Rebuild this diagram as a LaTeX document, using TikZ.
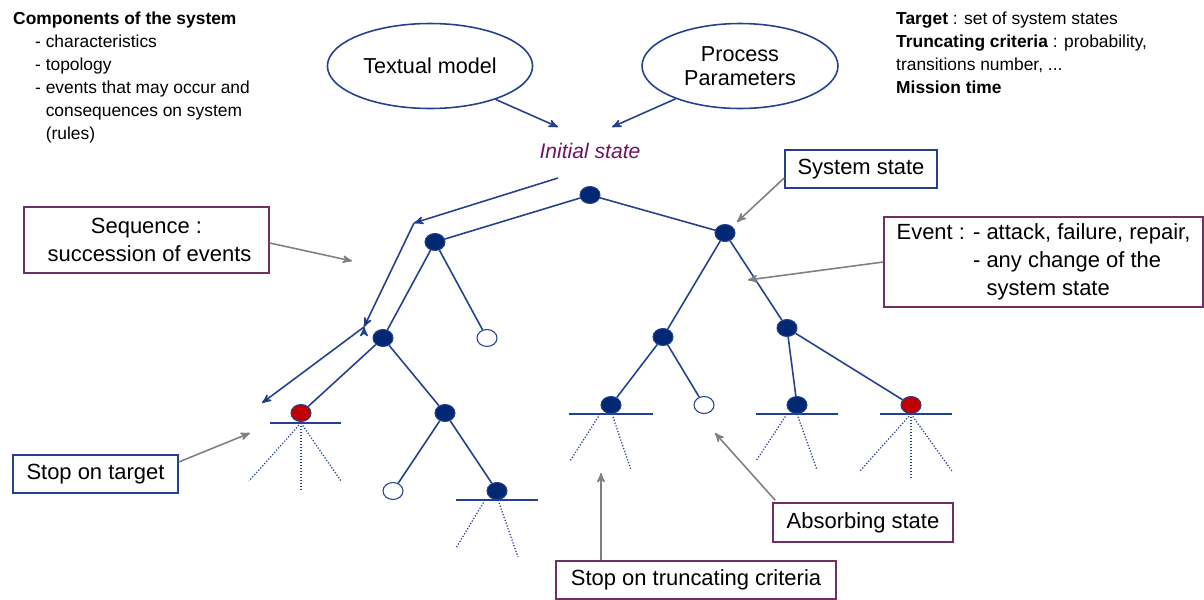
\documentclass[tikz,border=0pt]{standalone}
\usepackage{fontspec}
\setmainfont{Liberation Sans}
\usepackage{xcolor}
\usetikzlibrary{arrows, calc, positioning, shapes.geometric}

\definecolor{edgeblue}{RGB}{37,64,143}
\definecolor{nodeblue}{RGB}{0,40,115}
\definecolor{leafred}{RGB}{192,0,0}
\definecolor{boxpurple}{RGB}{112,48,100}
\definecolor{initpurple}{RGB}{112,20,96}
\definecolor{notegray}{RGB}{128,128,128}

\tikzset{
    sysstate/.style={ellipse, draw=edgeblue, fill=nodeblue, line width=0.6pt, minimum width=0.4cm, minimum height=0.34cm, inner sep=0pt},
    targetstate/.style={sysstate, fill=leafred},
    absorbstate/.style={sysstate, fill=white},
    treeedge/.style={draw=edgeblue, line width=0.9pt},
    fan/.style={draw=edgeblue, densely dotted, line width=0.7pt},
    inputbox/.style={ellipse, draw=edgeblue, line width=0.9pt, minimum width=3.92cm, minimum height=1.7cm, align=center, font=\fontsize{12.3}{14}\selectfont},
    bluebox/.style={draw=edgeblue, line width=0.9pt, fill=white, inner sep=0pt, align=center, font=\fontsize{12.5}{16}\selectfont},
    purplebox/.style={bluebox, draw=boxpurple},
    note/.style={->, draw=notegray, line width=0.9pt},
    seqarrow/.style={->, draw=edgeblue, line width=0.9pt}
}

\begin{document}
\begin{tikzpicture}[x=0.02cm, y=-0.02cm, >=stealth']
                            \useasboundingbox (0,0) rectangle (1204,599);

                            \node[anchor=north west, align=left, font=\fontsize{9.9}{13}\selectfont] (compo) at (7,6) {\textbf{Components of the system}\\\hspace*{12.5pt}- characteristics\\\hspace*{12.5pt}- topology\\\hspace*{12.5pt}- events that may occur and\\\hspace*{12.5pt}\phantom{- }consequences on system\\\hspace*{12.5pt}\phantom{- }(rules)};
                            \node[anchor=north west, align=left, font=\fontsize{9.9}{13}\selectfont] (crit) at (890,6) {\textbf{Target} : set of system states\\\textbf{Truncating criteria} : probability,\\transitions number, ...\\\textbf{Mission time}};

                            \node[inputbox] (model) at (430,66) {Textual model};
                            \node[inputbox] (param) at (740,66) {Process\\Parameters};
                            \node[text=initpurple, font=\fontsize{12}{14}\selectfont\itshape] (init) at (590,151) {Initial state};

                            \coordinate (modeltip) at (558,127);
                            \coordinate (paramtip) at (612,127);
                            \draw[seqarrow] (model.-27) -- (modeltip);
                            \draw[seqarrow] (param.-153) -- (paramtip);

                            \node[sysstate] (r) at (590,195) {};
                            \node[sysstate] (l) at (435,242) {};
                            \node[sysstate] (rt) at (725,233) {};
                            \node[sysstate] (ll) at (383,338) {};
                            \node[absorbstate] (lr) at (487,338) {};
                            \node[targetstate] (lll) at (301,413) {};
                            \node[sysstate] (llr) at (445,413) {};
                            \node[absorbstate] (llrl) at (393,491) {};
                            \node[sysstate] (llrr) at (497,491) {};
                            \node[sysstate] (rl) at (663,337) {};
                            \node[sysstate] (rr) at (787,328) {};
                            \node[sysstate] (rll) at (611,405) {};
                            \node[absorbstate] (rlr) at (704,405) {};
                            \node[sysstate] (rrl) at (797,405) {};
                            \node[targetstate] (rrr) at (911,405) {};

                            \draw[treeedge]
                            (r) edge (l)
                            (r) edge (rt)
                            (l) edge (ll)
                            (l) edge (lr)
                            (ll) edge (lll)
                            (ll) edge (llr)
                            (llr) edge (llrl)
                            (llr) edge (llrr)
                            (rt) edge (rl)
                            (rt) edge (rr)
                            (rl) edge (rll)
                            (rl) edge (rlr)
                            (rr) edge (rrl)
                            (rr) edge (rrr);

                            \draw[treeedge] ($(lll)+(-31,10)$) -- ($(lll)+(40,10)$);
                            \draw[treeedge] ($(llrr)+(-41,9)$) -- ($(llrr)+(41,9)$);
                            \draw[treeedge] ($(rll)+(-42,9)$) -- ($(rll)+(42,9)$);
                            \draw[treeedge] ($(rrl)+(-41,9)$) -- ($(rrl)+(41,9)$);
                            \draw[treeedge] ($(rrr)+(-31,9)$) -- ($(rrr)+(41,9)$);

                            \draw[fan] ($(lll)+(0,10)$) -- ($(lll)+(-52,68)$);
                            \draw[fan] ($(lll)+(0,10)$) -- ($(lll)+(0,76)$);
                            \draw[fan] ($(lll)+(0,10)$) -- ($(lll)+(40,68)$);
                            \draw[fan] ($(llrr)+(-12,9)$) -- ($(llrr)+(-41,57)$);
                            \draw[fan] ($(llrr)+(1,9)$) -- ($(llrr)+(21,66)$);
                            \draw[fan] ($(rll)+(-11,9)$) -- ($(rll)+(-41,56)$);
                            \draw[fan] ($(rll)+(1,9)$) -- ($(rll)+(20,65)$);
                            \draw[fan] ($(rrl)+(-10,9)$) -- ($(rrl)+(-41,56)$);
                            \draw[fan] ($(rrl)+(0,9)$) -- ($(rrl)+(20,65)$);
                            \draw[fan] ($(rrr)+(0,9)$) -- ($(rrr)+(-51,66)$);
                            \draw[fan] ($(rrr)+(0,9)$) -- ($(rrr)+(0,74)$);
                            \draw[fan] ($(rrr)+(0,9)$) -- ($(rrr)+(41,66)$);

                            \coordinate (seqa) at (558,178);
                            \coordinate (seqb) at (414,223);
                            \coordinate (seqc) at (364,327);
                            \coordinate (seqd) at (262,403);
                            \draw[seqarrow]
                            (seqa) edge (seqb)
                            (seqb) edge (seqc)
                            (seqc) edge (seqd);

                            \node[purplebox, minimum width=4.9cm, minimum height=1.32cm] (seqbox) at (146.5,240) {Sequence :\\ \ succession of events};
                            \node[bluebox, minimum width=3.04cm, minimum height=0.76cm] (sysbox) at (861,169) {System state};
                            \node[purplebox, minimum width=6.38cm, minimum height=1.8cm, align=left] (eventbox) at (1043.5,262) {Event : - attack, failure, repair,\\\phantom{Event : }- any change of the\\\phantom{Event : - }system state};
                            \node[bluebox, minimum width=3.3cm, minimum height=0.76cm] (targetbox) at (95.5,474) {Stop on target};
                            \node[purplebox, minimum width=3.6cm, minimum height=0.78cm] (absbox) at (863,522.5) {Absorbing state};
                            \node[purplebox, minimum width=5.6cm, minimum height=0.76cm] (truncbox) at (696,580) {Stop on truncating criteria};

                            \coordinate (seqtip) at (352,261);
                            \coordinate (systip) at (737,222);
                            \coordinate (eventtip) at (748,280);
                            \coordinate (targettip) at (250,433);
                            \coordinate (abstip) at (715,433);
                            \coordinate (trunctip) at (601,473);

                            \draw[note] ($(seqbox.east)+(0,3)$) -- (seqtip);
                            \draw[note] ($(sysbox.west)+(0,9)$) -- (systip);
                            \draw[note] (eventbox.west) -- (eventtip);
                            \draw[note] ($(targetbox.east)+(0,-12)$) -- (targettip);
                            \draw[note] ($(absbox.north west)+(3,-2)$) -- (abstip);
                            \draw[note] (truncbox.north -| trunctip) -- (trunctip);
                        \end{tikzpicture}
\end{document}
